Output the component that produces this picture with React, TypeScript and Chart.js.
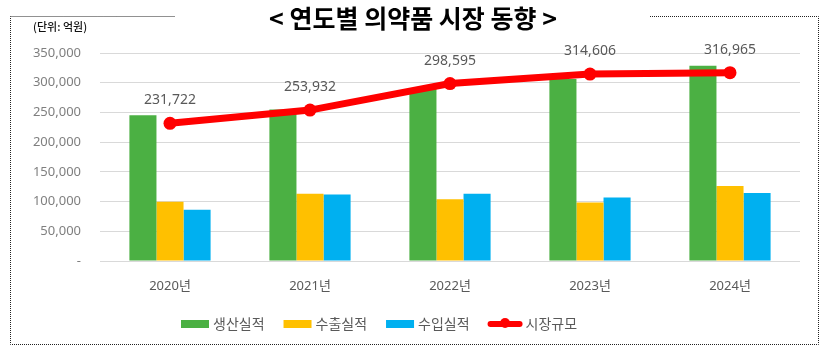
import React, { useEffect, useRef } from "react";
import { Chart, registerables } from "chart.js";

Chart.register(...registerables);

const years = ["2020년", "2021년", "2022년", "2023년", "2024년"];
const production = [245051, 254932, 289395, 306106, 328465];
const exportsArr = [99648, 113000, 103800, 98500, 126000];
const importsArr = [86319, 112000, 113000, 107000, 114500];
const marketSize = [231722, 253932, 298595, 314606, 316965];

const seriesNames = ["생산실적", "수출실적", "수입실적", "시장규모"];
const titleText = "< 연도별 의약품 시장 동향 >";
const unitText = "(단위: 억원)";

const GREEN = "#4bb043";
const YELLOW = "#ffc000";
const BLUE = "#00b0f0";
const RED = "#ff0000";

const numFont = "'Noto Sans', 'Noto Sans CJK KR', sans-serif";
const krFont = "'Noto Sans CJK KR', sans-serif";

const fmt = (v: number) => v.toLocaleString("en-US");

const decorPlugin = {
  id: "decor",
  beforeDraw(chart: any) {
    const ctx = chart.ctx;
    ctx.save();
    ctx.fillStyle = "#ffffff";
    ctx.fillRect(0, 0, chart.width, chart.height);
    // dotted frame
    ctx.strokeStyle = "#222";
    ctx.lineWidth = 1;
    ctx.setLineDash([1, 1]);
    ctx.beginPath();
    ctx.moveTo(10.5, 16.5);
    ctx.lineTo(175, 16.5);
    ctx.moveTo(650, 16.5);
    ctx.lineTo(818.5, 16.5);
    ctx.lineTo(818.5, 344.5);
    ctx.lineTo(10.5, 344.5);
    ctx.lineTo(10.5, 16.5);
    ctx.stroke();
    ctx.setLineDash([]);
    // title
    ctx.fillStyle = "#000";
    ctx.font = "bold 25px " + krFont;
    ctx.textAlign = "center";
    ctx.textBaseline = "middle";
    ctx.fillText(titleText, 413, 18);
    // unit
    ctx.font = "500 11px " + krFont;
    ctx.textAlign = "left";
    ctx.fillStyle = "#111";
    ctx.fillText(unitText, 33, 27);
    ctx.restore();
  },
  afterDatasetsDraw(chart: any) {
    const ctx = chart.ctx;
    ctx.save();
    // data labels for line
    chart.data.datasets.forEach((ds: any, i: number) => {
      if (ds.type !== "line") return;
      const meta = chart.getDatasetMeta(i);
      ctx.fillStyle = "#595959";
      ctx.font = "14px " + numFont;
      ctx.textAlign = "center";
      ctx.textBaseline = "middle";
      meta.data.forEach((pt: any, j: number) => {
        ctx.fillText(fmt(ds.data[j]), pt.x, pt.y - 23);
      });
    });
    // legend (bars first, then line)
    const items = [
      ...chart.data.datasets.filter((d: any) => d.type !== "line"),
      ...chart.data.datasets.filter((d: any) => d.type === "line"),
    ];
    let x = 181;
    const y = 324;
    ctx.font = "14px " + krFont;
    ctx.textBaseline = "middle";
    ctx.textAlign = "left";
    items.forEach((ds: any) => {
      let w = 28;
      if (ds.type === "line") {
        w = 33;
        ctx.strokeStyle = ds.borderColor;
        ctx.lineWidth = 6;
        ctx.lineCap = "round";
        ctx.beginPath();
        ctx.moveTo(x + 2, y);
        ctx.lineTo(x + w - 2, y);
        ctx.stroke();
        ctx.fillStyle = ds.borderColor;
        ctx.beginPath();
        ctx.arc(x + w / 2, y - 1, 5, 0, Math.PI * 2);
        ctx.fill();
      } else {
        ctx.fillStyle = ds.backgroundColor;
        ctx.fillRect(x, y - 4, w, 8);
      }
      ctx.fillStyle = "#595959";
      ctx.fillText(ds.label, x + w + 4, y);
      const tw = ctx.measureText(ds.label).width;
      x = x + w + 4 + tw + 19;
    });
    ctx.restore();
  },
};

export default function App() {
  const ref = useRef<HTMLCanvasElement | null>(null);
  useEffect(() => {
    if (!ref.current) return;
    const chart = new Chart(ref.current, {
      type: "bar",
      data: {
        labels: years,
        datasets: [
          {
            type: "line",
            label: seriesNames[3],
            data: marketSize,
            borderColor: RED,
            backgroundColor: RED,
            borderWidth: 7,
            pointRadius: 6.5,
            pointBackgroundColor: RED,
            pointBorderWidth: 0,
            tension: 0,
            order: 0,
          } as any,
          {
            type: "bar",
            label: seriesNames[0],
            data: production,
            backgroundColor: GREEN,
            order: 1,
          },
          {
            type: "bar",
            label: seriesNames[1],
            data: exportsArr,
            backgroundColor: YELLOW,
            order: 1,
          },
          {
            type: "bar",
            label: seriesNames[2],
            data: importsArr,
            backgroundColor: BLUE,
            order: 1,
          },
        ],
      },
      options: {
        animation: false,
        responsive: false,
        maintainAspectRatio: false,
        datasets: {
          bar: { categoryPercentage: 0.58, barPercentage: 1 },
        },
        layout: { padding: { left: 0, right: 24, top: 53, bottom: 52 } },
        plugins: {
          legend: { display: false },
          tooltip: { enabled: false },
          title: { display: false },
        },
        scales: {
          x: {
            grid: { display: false, drawTicks: false },
            border: { display: false },
            ticks: {
              color: "#595959",
              font: { family: numFont, size: 13 },
              padding: 17,
            },
            afterFit: (s: any) => {
              s.height = 40;
            },
          },
          y: {
            min: 0,
            max: 350000,
            grid: { color: "#d9d9d9", lineWidth: 1, drawTicks: false },
            border: { display: false },
            ticks: {
              stepSize: 50000,
              color: "#7f7f7f",
              font: { family: numFont, size: 13 },
              padding: 19,
              callback: (v: any) => (Number(v) === 0 ? "-" : fmt(Number(v))),
            },
            afterFit: (s: any) => {
              s.width = 100;
            },
          },
        },
      },
      plugins: [decorPlugin],
    });
    return () => chart.destroy();
  }, []);
  return (
    <div style={{ position: "absolute", left: 0, top: 0, width: 824, height: 353 }}>
      <canvas ref={ref} width={824} height={353} style={{ width: 824, height: 353 }} />
    </div>
  );
}
